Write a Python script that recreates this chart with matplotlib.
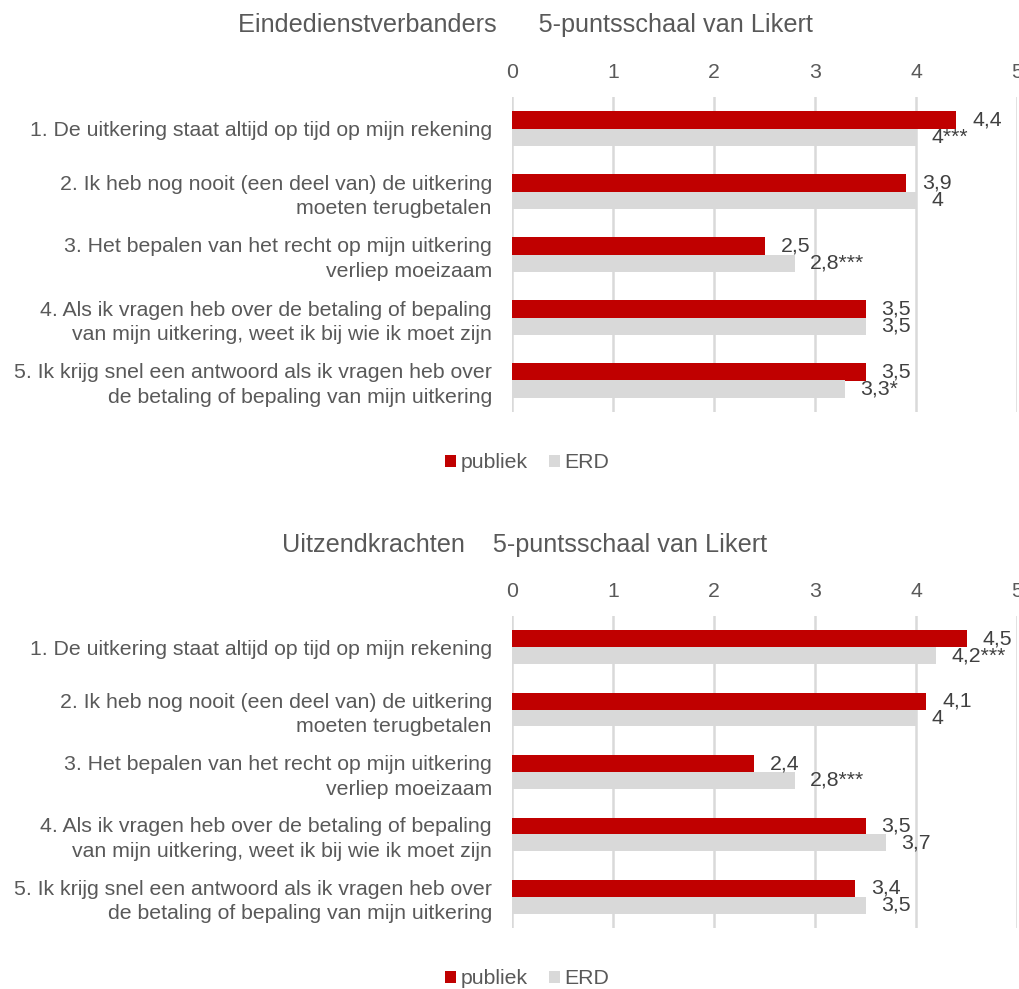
import matplotlib
matplotlib.use("Agg")
import matplotlib.pyplot as plt
from matplotlib.patches import Patch

plt.rcParams['font.family'] = ['Liberation Sans', 'DejaVu Sans']

categories = [
    "1. De uitkering staat altijd op tijd op mijn rekening",
    "2. Ik heb nog nooit (een deel van) de uitkering\nmoeten terugbetalen",
    "3. Het bepalen van het recht op mijn uitkering\nverliep moeizaam",
    "4. Als ik vragen heb over de betaling of bepaling\nvan mijn uitkering, weet ik bij wie ik moet zijn",
    "5. Ik krijg snel een antwoord als ik vragen heb over\nde betaling of bepaling van mijn uitkering",
]
xticks = [0, 1, 2, 3, 4, 5]

title_top = "Eindedienstverbanders      5-puntsschaal van Likert"
publiek_top = [4.4, 3.9, 2.5, 3.5, 3.5]
erd_top = [4.0, 4.0, 2.8, 3.5, 3.3]
publiek_top_labels = ["4,4", "3,9", "2,5", "3,5", "3,5"]
erd_top_labels = ["4***", "4", "2,8***", "3,5", "3,3*"]

title_bot = "Uitzendkrachten    5-puntsschaal van Likert"
publiek_bot = [4.5, 4.1, 2.4, 3.5, 3.4]
erd_bot = [4.2, 4.0, 2.8, 3.7, 3.5]
publiek_bot_labels = ["4,5", "4,1", "2,4", "3,5", "3,4"]
erd_bot_labels = ["4,2***", "4", "2,8***", "3,7", "3,5"]

series_names = ["publiek", "ERD"]

RED = "#C00000"
GRAY = "#D9D9D9"
TXT = "#595959"
LBL = "#404040"
FS = 15.3

W, H = 1019, 989
fig = plt.figure(figsize=(W / 100, H / 100), dpi=100)


def panel(top_px, height_px, title, title_y, pub, erd, pub_lab, erd_lab, legend_y):
    bottom_px = top_px + height_px
    ax = fig.add_axes([512 / W, 1 - bottom_px / H, 505 / W, height_px / H])
    n = len(categories)
    ys = list(range(n))
    bh = 0.27
    ax.barh([y - bh / 2 for y in ys], pub, height=bh, color=RED, zorder=3)
    ax.barh([y + bh / 2 for y in ys], erd, height=bh, color=GRAY, zorder=3)
    for y, v, t in zip(ys, pub, pub_lab):
        ax.annotate(t, (v, y - bh / 2), xytext=(11.5, 0), textcoords="offset points",
                    ha="left", va="center", fontsize=FS, color=LBL, zorder=4)
    for y, v, t in zip(ys, erd, erd_lab):
        ax.annotate(t, (v, y + bh / 2), xytext=(11, 0), textcoords="offset points",
                    ha="left", va="center", fontsize=FS, color=LBL, zorder=4)
    ax.set_xlim(0, 5)
    ax.set_ylim(n - 0.5, -0.5)
    ax.set_xticks(xticks)
    ax.set_xticklabels([str(x) for x in xticks])
    ax.xaxis.tick_top()
    ax.tick_params(axis="x", length=0, pad=10.5, labelsize=FS, labelcolor=TXT)
    ax.set_yticks(ys)
    ax.set_yticklabels(categories, fontsize=FS, color=TXT, ha="right",
                       linespacing=1.37)
    ax.tick_params(axis="y", length=0, pad=14.5)
    ax.grid(axis="x", color=GRAY, linewidth=1.8, zorder=0)
    ax.set_axisbelow(True)
    for s in ax.spines.values():
        s.set_visible(False)
    ax.patch.set_alpha(0)
    fig.text(525 / W, 1 - title_y / H, title, ha="center", va="center",
             fontsize=18.2, color=TXT)
    handles = [Patch(facecolor=RED, edgecolor="none"), Patch(facecolor=GRAY, edgecolor="none")]
    fig.legend(handles, series_names, loc="center", bbox_to_anchor=(527 / W, 1 - legend_y / H),
               ncol=2, frameon=False, fontsize=FS, labelcolor=TXT,
               handlelength=0.52, handleheight=0.52, handletextpad=0.2, columnspacing=1.0)
    return ax


panel(97, 315, title_top, 25, publiek_top, erd_top, publiek_top_labels, erd_top_labels, 463)
panel(616, 312, title_bot, 545, publiek_bot, erd_bot, publiek_bot_labels, erd_bot_labels, 979)

fig.savefig("out.png", dpi=100)
